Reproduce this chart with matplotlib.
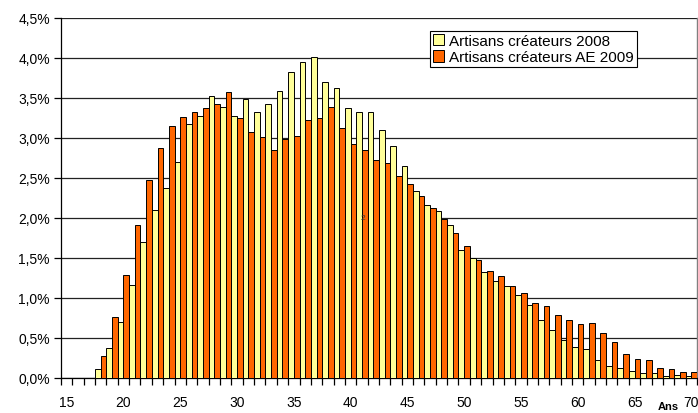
import numpy as np
import matplotlib
matplotlib.use("Agg")
import matplotlib.pyplot as plt
from matplotlib.ticker import FuncFormatter

plt.rcParams["font.family"] = ["Liberation Sans", "DejaVu Sans"]

# ages 15..70
ages = list(range(15, 71))

# share of creations by age (%)
createurs_2008 = [
    0.0, 0.0, 0.0, 0.11, 0.375, 0.70, 1.16, 1.70, 2.10, 2.37,
    2.70, 3.17, 3.28, 3.52, 3.39, 3.28, 3.49, 3.33, 3.42, 3.59,
    3.83, 3.95, 4.01, 3.70, 3.63, 3.38, 3.32, 3.33, 3.10, 2.90,
    2.65, 2.34, 2.16, 2.09, 1.91, 1.60, 1.50, 1.32, 1.21, 1.15,
    1.04, 0.91, 0.73, 0.60, 0.48, 0.39, 0.36, 0.22, 0.15, 0.125,
    0.09, 0.06, 0.06, 0.02, 0.04, 0.03,
]
createurs_ae_2009 = [
    0.0, 0.0, 0.0, 0.27, 0.76, 1.29, 1.91, 2.475, 2.88, 3.15,
    3.26, 3.32, 3.375, 3.42, 3.58, 3.25, 3.08, 3.01, 2.85, 2.99,
    3.02, 3.23, 3.25, 3.39, 3.13, 2.93, 2.85, 2.72, 2.69, 2.52,
    2.43, 2.275, 2.125, 1.99, 1.81, 1.65, 1.475, 1.34, 1.28, 1.15,
    1.06, 0.94, 0.90, 0.79, 0.73, 0.675, 0.69, 0.56, 0.45, 0.30,
    0.24, 0.23, 0.13, 0.11, 0.07, 0.07,
]
labels = ["Artisans créateurs 2008", "Artisans créateurs AE 2009"]

fig = plt.figure(figsize=(6.98, 4.14), dpi=100)
ax = fig.add_axes([61 / 698, 1 - 379 / 414, 636 / 698, 360 / 414])

x = np.array(ages)
w = 0.5
ax.bar(x - w / 2, createurs_2008, width=w, color="#FFFF99",
       edgecolor="#000000", linewidth=0.7, label=labels[0], zorder=3)
ax.bar(x + w / 2, createurs_ae_2009, width=w, color="#FF6600",
       edgecolor="#000000", linewidth=0.7, label=labels[1], zorder=3)

ax.set_xlim(14.5, 70.5)
ax.set_ylim(0, 4.5)

# grid
ax.set_yticks(np.arange(0, 4.51, 0.5))
ax.yaxis.set_major_formatter(
    FuncFormatter(lambda v, p: f"{v:.1f}%".replace(".", ","))
)
ax.grid(axis="y", color="#222222", linewidth=0.9, zorder=0)
ax.tick_params(axis="y", direction="out", length=5, width=0.9,
               labelsize=10, pad=3)

ax.set_xticks(range(15, 71, 5))
ax.set_xticks(np.arange(14.5, 70.6, 1), minor=True)
ax.tick_params(axis="x", which="major", length=0, labelsize=10, pad=12)
ax.tick_params(axis="x", which="minor", direction="out", length=5, width=0.9)

for s in ["left", "bottom"]:
    ax.spines[s].set_color("black")
    ax.spines[s].set_linewidth(0.9)
ax.spines["top"].set_visible(False)
ax.spines["right"].set_color("#808080")
ax.spines["right"].set_linewidth(1.0)

leg = ax.legend(loc="upper left", bbox_to_anchor=(0.580, 0.964),
                borderaxespad=0, fontsize=11, frameon=True, fancybox=False,
                edgecolor="black", framealpha=1, handlelength=0.75,
                handleheight=0.75, handletextpad=0.3, borderpad=0.2,
                labelspacing=0.15)
leg.get_frame().set_linewidth(0.8)

# stray label left in the original
ax.text(41.1, 2.0, "2", fontsize=6, color="#333333", ha="center",
        va="center", zorder=4)

fig.text(668 / 698, 1 - 407 / 414, "Ans", fontsize=8, fontweight="bold",
         ha="center", va="center")

fig.savefig("out.png", dpi=100)
